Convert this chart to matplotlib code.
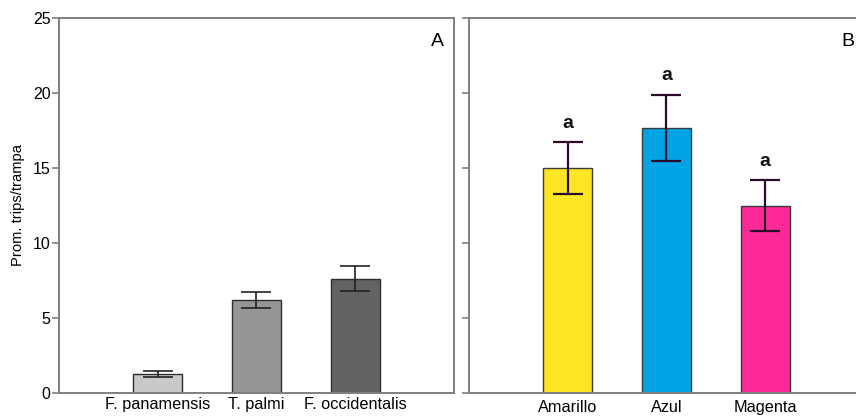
import matplotlib
matplotlib.use('Agg')
import matplotlib.pyplot as plt
import numpy as np

plt.rcParams['font.family'] = ['Liberation Sans', 'DejaVu Sans']

# panel A: species
species = ['F. panamensis', 'T. palmi', 'F. occidentalis']
species_mean = [1.25, 6.22, 7.62]
species_err = [0.2, 0.53, 0.85]
species_colors = ['#c9c9c9', '#969696', '#636363']

# panel B: trap colour
traps = ['Amarillo', 'Azul', 'Magenta']
trap_mean = [15.0, 17.67, 12.49]
trap_err = [1.73, 2.2, 1.7]
trap_letters = ['a', 'a', 'a']
trap_colors = ['#fde725', '#00a3e4', '#fc2a98']


def style_axes(ax, show_labels):
    for s in ax.spines.values():
        s.set_color('#7f7f7f')
        s.set_linewidth(1.4)
    ax.set_xlim(-1, 3)
    ax.set_ylim(0, 25)
    ax.set_yticks(np.arange(0, 26, 5))
    ax.tick_params(axis='y', direction='out', length=5, width=1.2,
                   color='#7f7f7f', labelsize=11.5, pad=1,
                   labelleft=show_labels)
    ax.tick_params(axis='x', length=0, labelsize=11.7)


fig = plt.figure(figsize=(8.56, 4.17), dpi=100)
ax1 = fig.add_axes([0.0689, 0.0576, 0.4614, 0.8993])
ax2 = fig.add_axes([0.5479, 0.0576, 0.4614, 0.8993])

x = np.arange(len(species))
ax1.bar(x, species_mean, width=0.5, color=species_colors,
        edgecolor='#2e2e2e', linewidth=1.0, zorder=2)
ax1.errorbar(x, species_mean, yerr=species_err, fmt='none',
             ecolor='#222222', elinewidth=1.2, capsize=11, capthick=1.2,
             zorder=3)
ax1.set_xticks(x)
ax1.set_xticklabels(species)
ax1.tick_params(axis='x', pad=3)
ax1.set_ylabel('Prom. trips/trampa', fontsize=10.6, labelpad=6)
ax1.text(0.975, 0.96, 'A', transform=ax1.transAxes, ha='right', va='top',
         fontsize=14)
style_axes(ax1, True)

x = np.arange(len(traps))
ax2.bar(x, trap_mean, width=0.5, color=trap_colors,
        edgecolor='#3a3a3a', linewidth=1.0, zorder=2)
ax2.errorbar(x, trap_mean, yerr=trap_err, fmt='none',
             ecolor='#2a0c2a', elinewidth=1.6, capsize=11, capthick=1.6,
             zorder=3)
for xi, m, e, lab in zip(x, trap_mean, trap_err, trap_letters):
    ax2.text(xi, m + e + 0.7, lab, ha='center', va='bottom',
             fontsize=14, fontweight='bold', color='#111111')
ax2.set_xticks(x)
ax2.set_xticklabels(traps)
ax2.tick_params(axis='x', pad=5)
ax2.text(0.975, 0.96, 'B', transform=ax2.transAxes, ha='right', va='top',
         fontsize=14)
style_axes(ax2, False)

fig.savefig('out.png', dpi=100)
